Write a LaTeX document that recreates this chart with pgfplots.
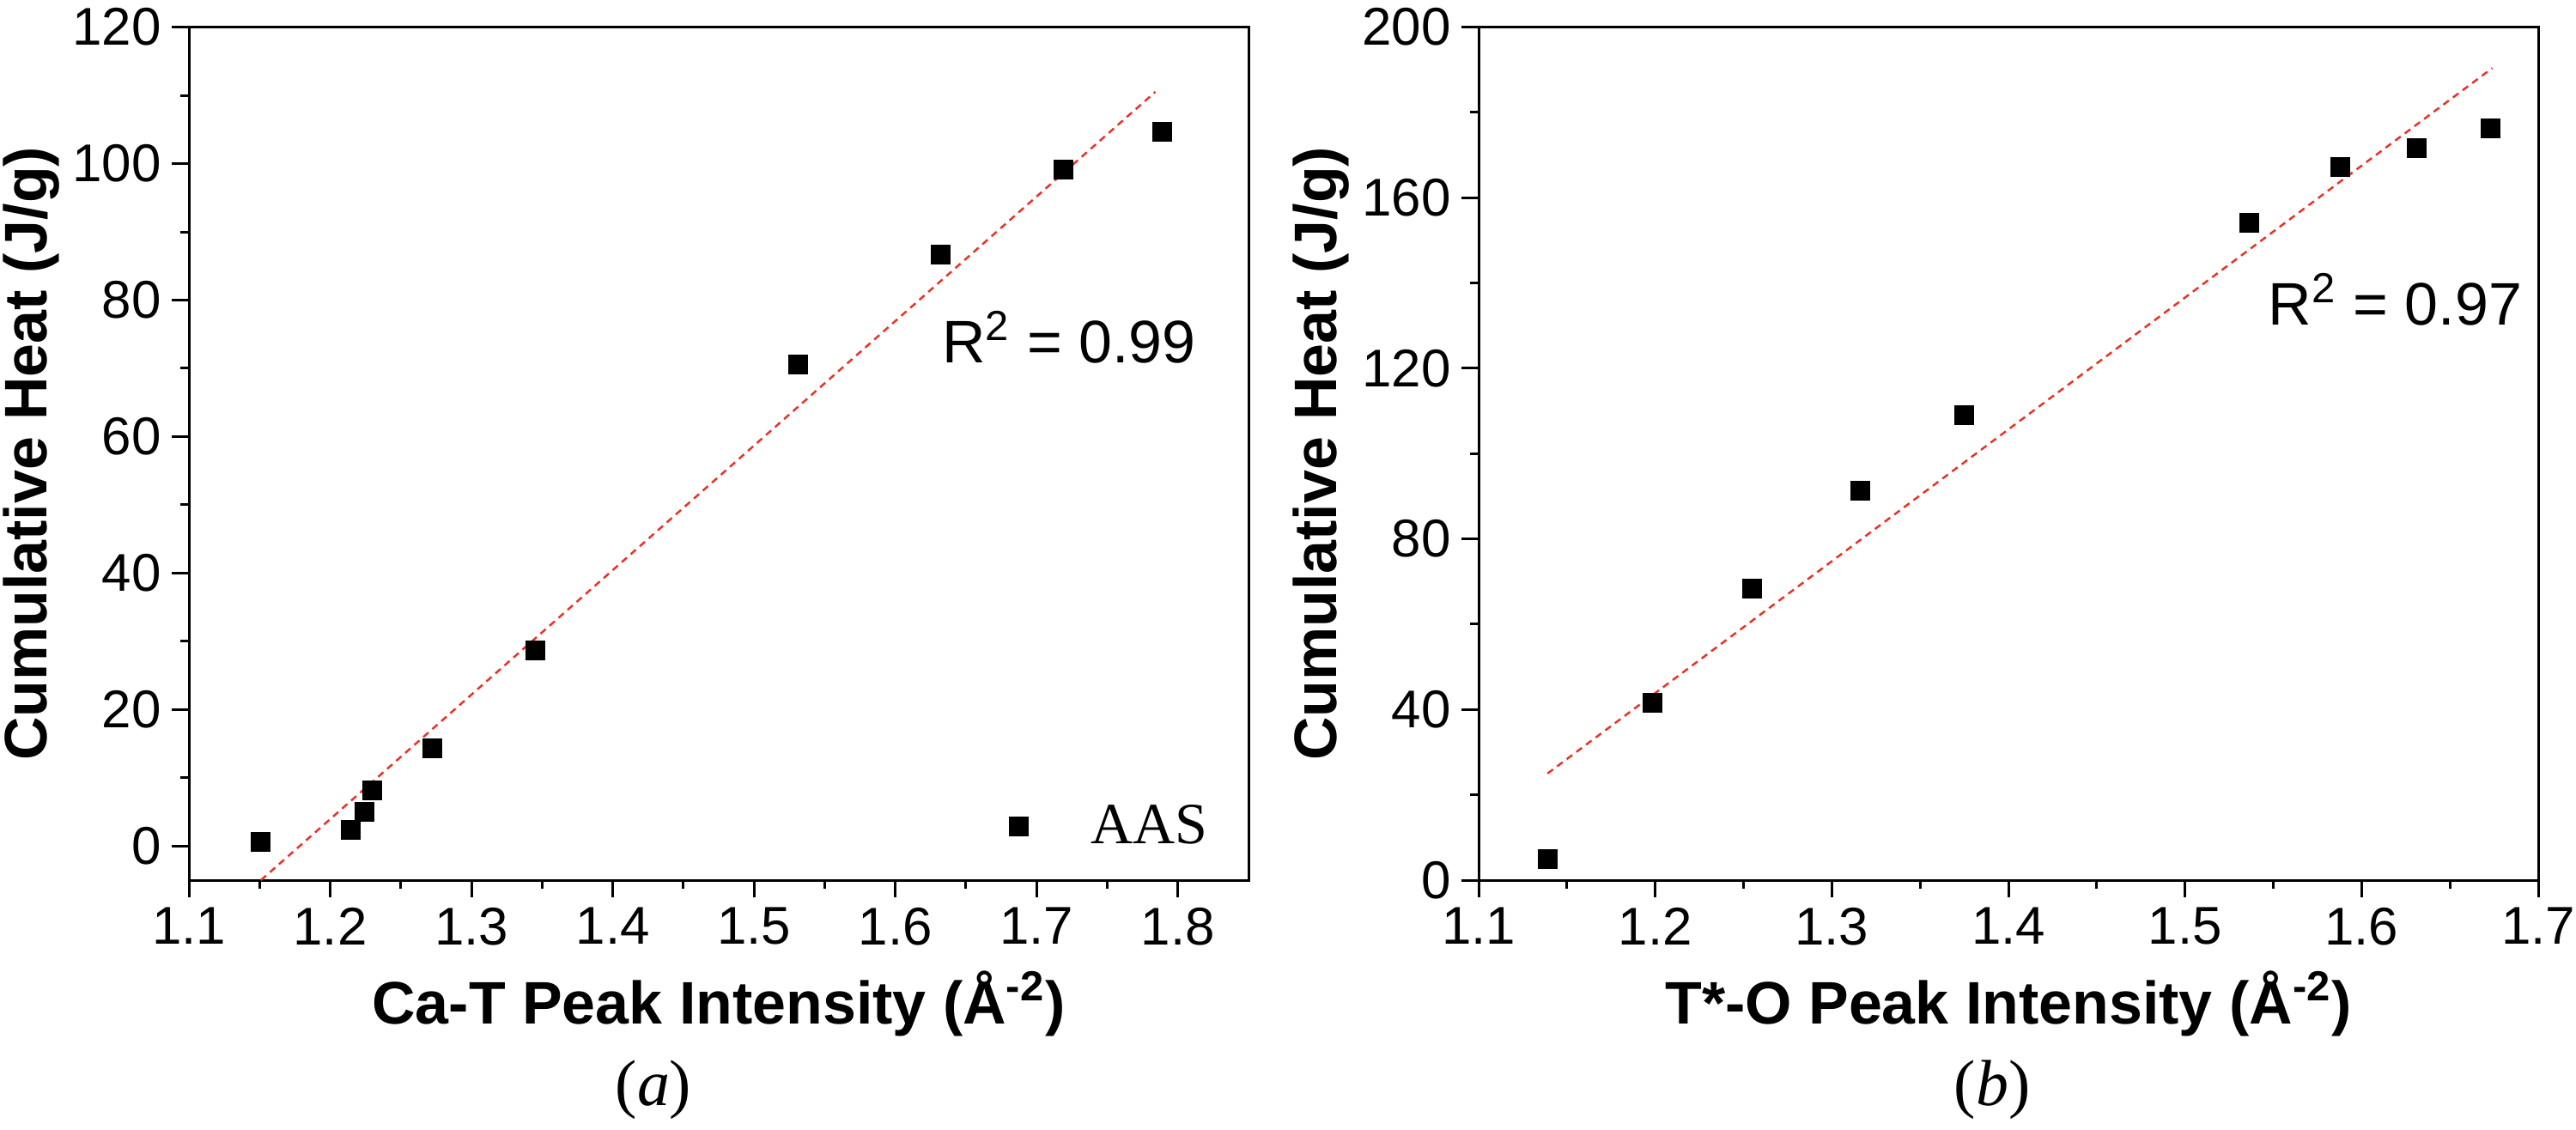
\documentclass[border=0pt]{standalone}
\usepackage{fontspec}
\setmainfont{Liberation Serif}
\newfontfamily\arial{Liberation Sans}
\usepackage{pgfplots}
\pgfplotsset{compat=1.18}
\definecolor{fitred}{RGB}{232,52,40}

\pgfplotstableread{
x y
1.151 0.6
1.2145 2.4
1.224 5.0
1.2296 8.1
1.2726 14.3
1.345 28.6
1.531 70.5
1.632 86.7
1.719 99.1
1.789 104.7
}\dataA
\pgfplotstableread{
x y
1.151 -5
1.784 110.5
}\fitA
\pgfplotstableread{
x y
1.139 4.9
1.1986 41.5
1.255 68.3
1.3163 91.3
1.375 109.1
1.5364 154.2
1.588 167.3
1.631 171.7
1.673 176.2
}\dataB
\pgfplotstableread{
x y
1.139 25.0
1.674 190.4
}\fitB

\pgfplotsset{
 panel/.style={
  scale only axis, width=123.4mm, height=99.34mm,
  anchor=south west,
  axis line style={line width=0.3mm, black},
  every tick/.style={line width=0.3mm, black},
  major tick length=2mm, minor tick length=1mm,
  tick align=outside, xtick pos=bottom, ytick pos=left,
  minor x tick num=1, minor y tick num=1,
  /pgf/number format/assume math mode=true,
  ticklabel style={font=\arial\fontsize{17.6pt}{20pt}\selectfont},
  xticklabel style={/pgf/number format/.cd, fixed, fixed zerofill, precision=1},
  label style={font=\arial\bfseries\fontsize{19.9pt}{22pt}\selectfont},
  xlabel style={at={(axis description cs:0.5,-0.1681)}, anchor=base, inner sep=0pt},
  ylabel style={at={(axis description cs:-0.1216,0.5)}, anchor=south, inner sep=0pt},
  clip=false,
 },
 pts/.style={only marks, mark=square*, mark size=1.1mm, black, mark options={line width=0pt}},
 fit/.style={fitred, line width=0.25mm, dash pattern=on 0.8mm off 0.6mm, no marks, forget plot},
}

\begin{document}
\begin{tikzpicture}
\useasboundingbox (0,0) rectangle (300mm,131.5mm);
\begin{axis}[panel, at={(22mm,29.0mm)},
  xmin=1.1, xmax=1.85, ymin=-5, ymax=120,
  xtick={1.1,1.2,1.3,1.4,1.5,1.6,1.7,1.8},
  ytick={0,20,40,60,80,100,120},
  xlabel={Ca-T Peak Intensity (Å\textsuperscript{-2})},
  ylabel={Cumulative Heat (J/g)},
  legend style={draw=none, fill=none, inner sep=0pt, font=\fontsize{19.35pt}{22pt}\selectfont,
    at={(axis cs:1.687,2.9)}, anchor=west, xshift=-1.15mm},
  legend image code/.code={\draw[mark=square*, mark size=1.1mm, only marks, black] plot coordinates {(0mm,0mm)}; \path[draw=none] (0mm,0mm) -- (7.7mm,0mm);},
]
\addplot[fit] table[x=x,y=y]{\fitA};
\addplot[pts] table[x=x,y=y]{\dataA};
\addlegendentry{AAS}
\node[anchor=base, font=\arial\fontsize{19.9pt}{22pt}\selectfont] at (axis cs:1.723,70.8) {R\textsuperscript{2} = 0.99};
\node[anchor=base, font=\fontsize{21.6pt}{24pt}\selectfont] at (rel axis cs:0.4384,-0.2647) {(\textit{a})};
\end{axis}
\begin{axis}[panel, at={(172.2mm,29.0mm)},
  xmin=1.1, xmax=1.7, ymin=0, ymax=200,
  xtick={1.1,1.2,1.3,1.4,1.5,1.6,1.7},
  ytick={0,40,80,120,160,200},
  xlabel={T*-O Peak Intensity (Å\textsuperscript{-2})},
  ylabel={Cumulative Heat (J/g)},
]
\addplot[fit] table[x=x,y=y]{\fitB};
\addplot[pts] table[x=x,y=y]{\dataB};
\node[anchor=base, font=\arial\fontsize{19.9pt}{22pt}\selectfont] at (axis cs:1.619,130.1) {R\textsuperscript{2} = 0.97};
\node[anchor=base, font=\fontsize{21.6pt}{24pt}\selectfont] at (rel axis cs:0.4846,-0.2647) {(\textit{b})};
\end{axis}
\end{tikzpicture}
\end{document}
